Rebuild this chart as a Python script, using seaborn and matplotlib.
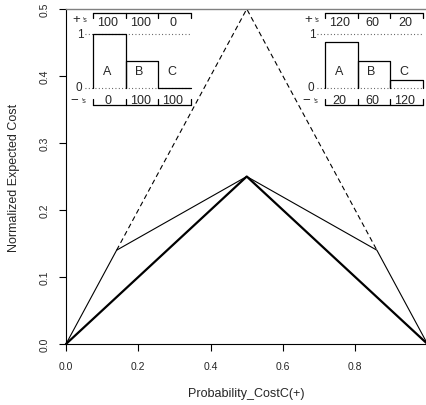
import matplotlib
matplotlib.use("Agg")
import matplotlib.pyplot as plt
import seaborn as sns
import numpy as np

# ---- data ----
env_prob = [0.0, 0.14, 0.5, 0.86, 1.0]
env_cost = [0.0, 0.14, 0.25, 0.14, 0.0]
triv_prob = [0.14, 0.5, 0.86]
triv_cost = [0.14, 0.5, 0.14]
best_prob = [0.0, 0.5, 1.0]
best_cost = [0.0, 0.25, 0.0]

x_ticks = [0.0, 0.2, 0.4, 0.6, 0.8]
x_tick_labels = ["0.0", "0.2", "0.4", "0.6", "0.8"]
y_ticks = [0.0, 0.1, 0.2, 0.3, 0.4, 0.5]
y_tick_labels = ["0.0", "0.1", "0.2", "0.3", "0.4", "0.5"]

classes = ["A", "B", "C"]
left_pos = ["100", "100", "0"]
left_neg = ["0", "100", "100"]
left_height = [1.0, 0.5, 0.0]
right_pos = ["120", "60", "20"]
right_neg = ["20", "60", "120"]
right_height = [0.86, 0.5, 0.14]

sns.set_style("ticks")
plt.rcParams["font.family"] = ["Liberation Sans", "DejaVu Sans"]

W, H = 426, 406
fig = plt.figure(figsize=(W / 100, H / 100), dpi=100)
ax = fig.add_axes([66 / W, 61 / H, 360 / W, 335 / H])

sns.lineplot(x=triv_prob, y=triv_cost, sort=False, estimator=None, ax=ax,
             color="black", lw=0.8, linestyle=(0, (4.5, 3)), clip_on=False)
sns.lineplot(x=env_prob, y=env_cost, sort=False, estimator=None, ax=ax,
             color="black", lw=0.8, clip_on=False)
sns.lineplot(x=best_prob, y=best_cost, sort=False, estimator=None, ax=ax,
             color="black", lw=1.6, clip_on=False)

ax.set_xlim(0, 360 / 361.5)
ax.set_ylim(0, 0.5)
ax.set_xticks(x_ticks)
ax.set_xticklabels(x_tick_labels, fontsize=7.5)
ax.set_yticks(y_ticks)
ax.set_yticklabels(y_tick_labels, fontsize=7.5, rotation=90, va="center")
ax.tick_params(axis="x", length=5, width=0.8, pad=7, color="black")
ax.tick_params(axis="y", length=5, width=0.8, pad=7, color="black")
for s in ["left", "bottom"]:
    ax.spines[s].set_color("black")
    ax.spines[s].set_linewidth(0.8)
ax.spines["top"].set_color("0.5")
ax.spines["top"].set_linewidth(1.0)
ax.spines["right"].set_visible(False)
ax.set_xlabel("Probability_CostC(+)", fontsize=9, labelpad=12)
ax.set_ylabel("Normalized Expected Cost", fontsize=9, labelpad=14)
ax.patch.set_alpha(0)


def inset(x0px, heights, pos, neg):
    # inset axis: x in bar units [0,3], y: 0 at px 89, 1 at px 35
    top_px, bot_px = 10, 110
    ia = fig.add_axes([x0px / W, (H - bot_px) / H, 98 / W, (bot_px - top_px) / H])
    ia.set_xlim(0, 3)
    ia.set_ylim((89 - bot_px) / 54, (89 - top_px) / 54)
    ia.axis("off")
    ia.patch.set_alpha(0)
    k = dict(clip_on=False, color="black")
    # dotted reference lines
    for yv in (0, 1):
        ia.plot([-0.25, 3], [yv, yv], lw=0.8, linestyle=(0, (0.8, 2.2)), color="0.3", clip_on=False)
    # bars (open at the bottom)
    for i, h in enumerate(heights):
        ia.plot([i, i, i + 1, i + 1], [0, h, h, 0], lw=0.9, **k)
        ia.text(i + 0.42, 0.31, classes[i], ha="center", va="center", fontsize=9)
    # brackets
    ytop, ytick = 1.39, 1.30
    ia.plot([0, 3], [ytop, ytop], lw=0.9, **k)
    ybot, ybtick = -0.315, -0.2
    ia.plot([0, 3], [ybot, ybot], lw=0.9, **k)
    for i in range(4):
        ia.plot([i, i], [ytop, ytick], lw=0.9, **k)
        ia.plot([i, i], [ybot, ybtick], lw=0.9, **k)
    for i in range(3):
        ia.text(i + 0.45, 1.22, pos[i], ha="center", va="center", fontsize=9)
        ia.text(i + 0.45, -0.22, neg[i], ha="center", va="center", fontsize=9)
    ia.text(-0.40, 1.00, "1", ha="center", va="center", fontsize=8.5)
    ia.text(-0.42, 0.02, "0", ha="center", va="center", fontsize=8.5)
    ia.text(-0.52, 1.27, "+", ha="center", va="center", fontsize=9.5)
    ia.text(-0.24, 1.27, "'s", ha="center", va="center", fontsize=5)
    ia.text(-0.57, -0.23, "\u2212", ha="center", va="center", fontsize=9.5)
    ia.text(-0.26, -0.23, "'s", ha="center", va="center", fontsize=5)


inset(93, left_height, left_pos, left_neg)
inset(325, right_height, right_pos, right_neg)

fig.savefig("out.png", dpi=100)
